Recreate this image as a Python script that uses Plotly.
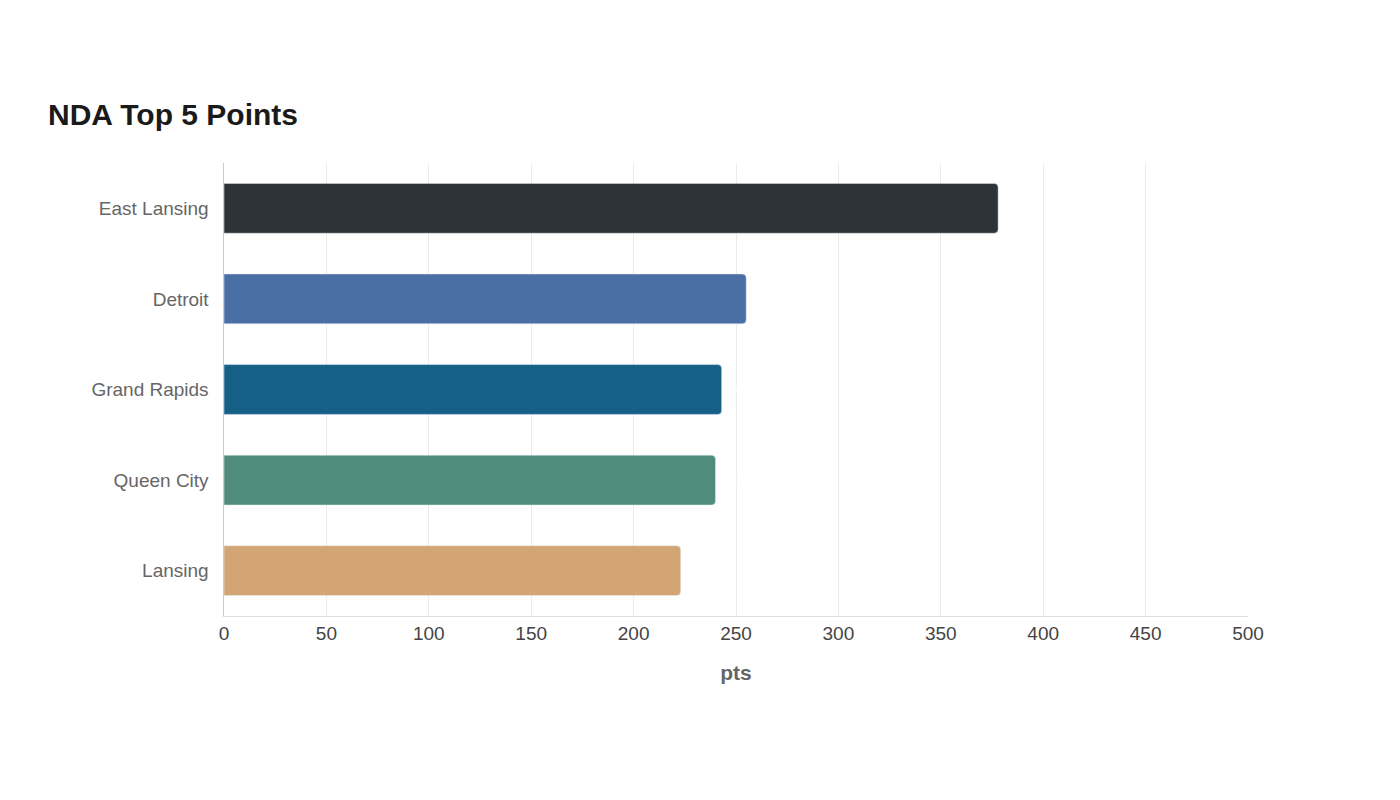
import plotly.graph_objects as go

teams = ["East Lansing", "Detroit", "Grand Rapids", "Queen City", "Lansing"]
points = [378, 255, 243, 240, 223]
colors = ["#2c3437", "#4a6fa5", "#166088", "#4f8c7b", "#d4a574"]

fig = go.Figure(go.Bar(
    y=teams, x=points, orientation="h", width=0.55,
    marker=dict(color=colors, cornerradius=4),
    text=[str(p) for p in points], textposition="outside", cliponaxis=False,
    textfont=dict(color="white", size=16, family="Liberation Sans"),
))
fig.update_layout(
    width=1400, height=800, paper_bgcolor="white", plot_bgcolor="white",
    font=dict(family="Liberation Sans", color="#666"),
    title=dict(text="<b>NDA Top 5 Points</b>", x=0.0286, y=0.88, xanchor="left",
               font=dict(size=30, color="#1a1a1a")),
    margin=dict(l=216, r=160, t=155, b=192),
    showlegend=False,
    xaxis=dict(range=[0, 500], dtick=50, gridcolor="#ebebeb", showline=True,
               linecolor="#dddddd", tickfont=dict(size=19, color="#444"), ticks="",
               zeroline=False,
               title=dict(text="<b>pts</b>", font=dict(size=21, color="#666"), standoff=22)),
    yaxis=dict(autorange="reversed", showline=True, linecolor="#cccccc",
               tickfont=dict(size=19, color="#666"), ticksuffix="  "),
)
fig.write_html("out.html")
